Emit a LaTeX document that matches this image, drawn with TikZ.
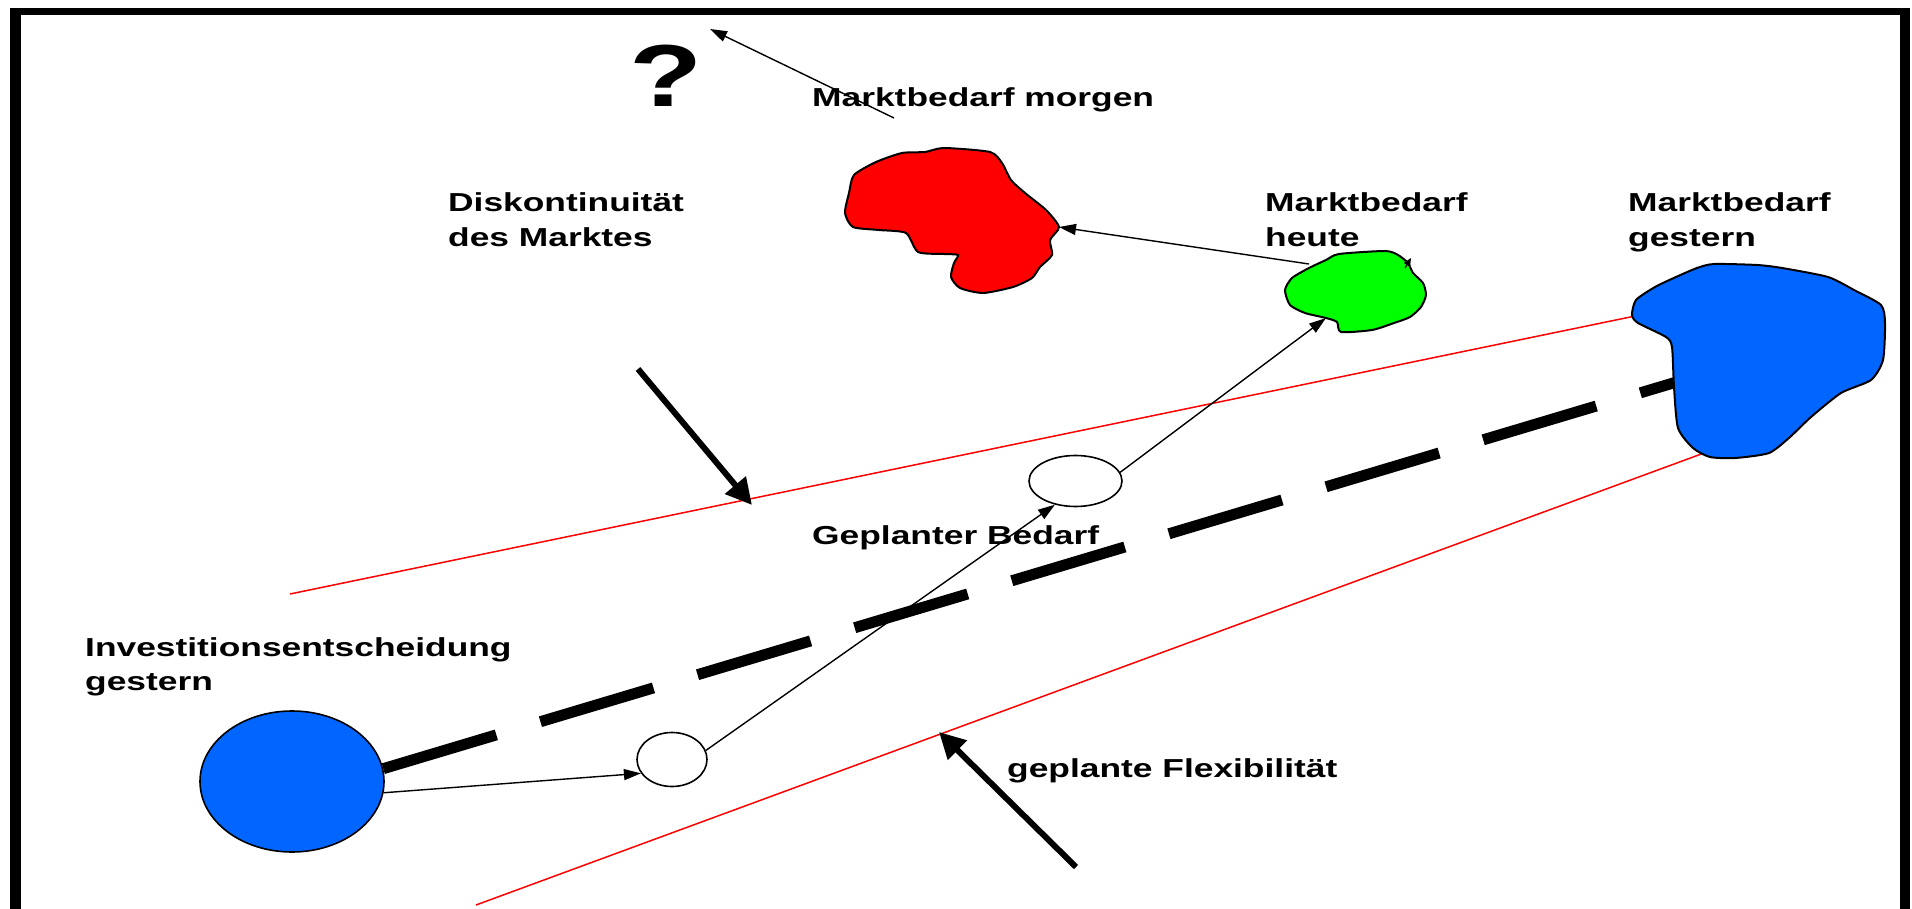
\documentclass[tikz,border=0pt]{standalone}
\usepackage{fontspec}
\setmainfont{Liberation Sans}
\newfontfamily\lblfont[FakeStretch=1.36]{Liberation Sans}
\usetikzlibrary{arrows.meta,shapes.geometric}

\definecolor{bluefill}{RGB}{0,102,255}
\definecolor{redfill}{RGB}{255,0,0}
\definecolor{greenfill}{RGB}{0,255,0}

\begin{document}
\begin{tikzpicture}[x=1pt,y=-1pt,
  lbl/.style={inner sep=0pt, anchor=base west, align=left,
    font=\lblfont\bfseries\fontsize{26}{34.5}\selectfont},
  bound/.style={draw=redfill, line width=1.5pt},
  blob/.style={draw=black, line width=2pt},
  disc/.style={ellipse, draw=black, line width=1.6pt, inner sep=0pt},
  thin/.style={draw=black, line width=1.4pt, -{Triangle[length=17pt,width=11pt]}},
  heavy/.style={draw=black, line width=6pt, -{Triangle[length=26pt,width=26pt]}},
  trend/.style={draw=black, line width=11pt, dash pattern=on 118pt off 46pt}
]
\useasboundingbox (0,0) rectangle (1912,909);
\fill[white] (0,0) rectangle (1912,909);

% frame (open at the bottom)
\fill[black] (10,8) rectangle (21,909);
\fill[black] (10,8) rectangle (1910,15);
\fill[black] (1900,8) rectangle (1910,909);

% corridor of planned flexibility
\coordinate (up1) at (290,594);
\coordinate (up2) at (1640,315);
\coordinate (lo1) at (476,905);
\coordinate (lo2) at (1704,453);
\draw[bound] (up1) -- (up2);
\draw[bound] (lo1) -- (lo2);

% decision yesterday and planned demand points
\node[disc, fill=bluefill, minimum width=184pt, minimum height=141pt] (inv) at (292,781.5) {};
\node[disc, fill=white, minimum width=70pt, minimum height=54pt] (p1) at (672,759.5) {};
\node[disc, fill=white, minimum width=93pt, minimum height=51pt] (p2) at (1075.5,481) {};

% planned trend line
\coordinate (trendend) at (1700,375);
\draw[trend] (inv.8.7) -- (trendend);

% market demand yesterday
\draw[blob, fill=bluefill] plot[smooth cycle, tension=0.4] coordinates {
  (1714,264) (1757,265) (1782,268) (1828,277) (1854,290) (1881,305)
  (1885,323) (1883,360) (1871,380) (1841,393) (1811,417) (1790,437)
  (1769,453) (1735,458) (1710,457) (1693,448) (1678,428) (1674,387)
  (1672,347) (1666,337) (1638,323) (1632,315) (1636,300) (1655,287)
  (1676,277) (1697,268)};

% market demand today
\draw[blob, fill=greenfill] plot[smooth cycle, tension=0.4] coordinates {
  (1339,254) (1385,251) (1398,255) (1408,263) (1413,273) (1423,283)
  (1426,295) (1421,307) (1410,317) (1394,323) (1372,330) (1341,332)
  (1337,322) (1326,318) (1305,313) (1290,305) (1285,290) (1292,278)
  (1309,268) (1326,260)};

% market demand tomorrow
\draw[blob, fill=redfill] plot[smooth cycle, tension=0.4] coordinates {
  (944,148) (990,152) (1002,163) (1011,180) (1025,193) (1046,210)
  (1059,227) (1050,240) (1052,255) (1040,267) (1032,278) (1013,287)
  (983,293) (960,288) (951,277) (954,263) (958,255) (944,254)
  (918,252) (906,233) (879,230) (853,227) (845,213) (849,193)
  (854,175) (876,162) (902,153) (925,152)};

\coordinate (greenout) at (1309,264);
\coordinate (greenin) at (1326,318);
\coordinate (greentip) at (1411,258);
\coordinate (greentail) at (1405,268);
\coordinate (redin) at (1059,227);
\coordinate (morgentail) at (894,118);
\coordinate (morgenhead) at (710,29);

% connectors
\draw[thin] (inv.-7.5) -- (p1.204);
\draw[thin] (p1.15) -- (p2.229);
\draw[thin] (p2.11) -- (greenin);
\draw[thin] (greenout) -- (redin);
\draw[thin] (morgentail) -- (morgenhead);
\draw[draw=black, line width=1.2pt, -{Triangle[length=8pt,width=7pt]}] (greentail) -- (greentip);

% heavy pointers
\coordinate (diskA) at (638,369);
\coordinate (diskB) at (752,505);
\coordinate (flexA) at (1076,867);
\coordinate (flexB) at (939,732);
\draw[heavy] (diskA) -- (diskB);
\draw[heavy] (flexA) -- (flexB);

% labels (two-line labels are anchored at the baseline of their last line)
\node[inner sep=0pt, anchor=base, font=\lblfont\bfseries\fontsize{88}{88}\selectfont] (quest) at (666,107) {?};
\node[lbl] (morgen) at (812,107) {Marktbedarf morgen};
\node[lbl] (disk) at (448,246.5) {Diskontinuität\\des Marktes};
\node[lbl] (heute) at (1265,246.5) {Marktbedarf\\heute};
\node[lbl] (gestern) at (1628,246.5) {Marktbedarf\\gestern};
\node[lbl] (geplant) at (812,544) {Geplanter Bedarf};
\node[lbl] (invlbl) at (85,690.5) {Investitionsentscheidung\\gestern};
\node[lbl] (flex) at (1007,777) {geplante Flexibilität};
\end{tikzpicture}
\end{document}
